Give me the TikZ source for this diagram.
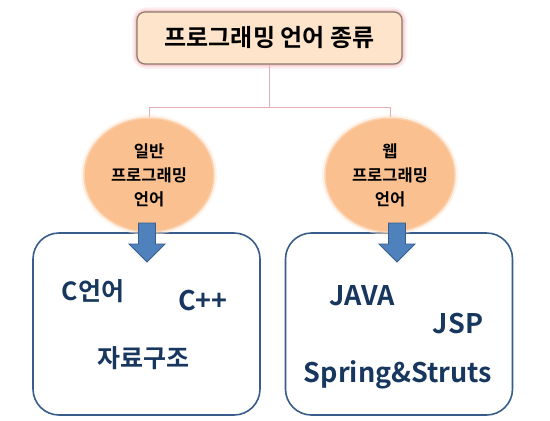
\documentclass[tikz,border=0pt]{standalone}
\usepackage{fontspec}
\setmainfont{Noto Sans CJK KR}[BoldFont={Noto Sans CJK KR Bold}]
\usetikzlibrary{shapes.geometric}
\definecolor{peach}{HTML}{FDE4CA}
\definecolor{orangefill}{HTML}{FAC090}
\definecolor{arrowblue}{HTML}{4F81BD}
\definecolor{edgeblue}{HTML}{385D8A}
\definecolor{navy}{HTML}{17375E}
\definecolor{glowpink}{HTML}{F2A0A8}
\definecolor{connpink}{HTML}{E6AEB4}
\tikzset{
  titlebox/.style={rectangle, rounded corners=8bp, fill=peach, draw=black!45!peach, line width=1.2bp,
    minimum width=265bp, minimum height=52bp, font=\fontsize{24bp}{28bp}\selectfont\bfseries, text=black},
  cat/.style={ellipse, fill=orangefill, draw=orangefill!70!white, line width=1.5bp,
    minimum width=130bp, minimum height=114bp, inner sep=0pt, align=center,
    font=\fontsize{16.5bp}{24bp}\selectfont\bfseries, text=black},
  listbox/.style={rectangle, rounded corners=26bp, draw=edgeblue, line width=1.6bp, fill=white,
    minimum width=227bp, minimum height=182bp},
  item/.style={font=\fontsize{25bp}{28bp}\selectfont\bfseries, text=navy, inner sep=0pt},
  latin/.style={item, font=\fontsize{27bp}{30bp}\selectfont\bfseries},
  conn/.style={draw=connpink, line width=1bp},
  blockarrow/.style={fill=arrowblue, draw=edgeblue, line width=0.8bp}
}
\begin{document}
\begin{tikzpicture}[x=1bp,y=-1bp]
\useasboundingbox (0,0) rectangle (550,420);
% boxes
\node[listbox] (box1) at (146.5,324) {};
\node[listbox] (box2) at (399,324) {};
% title glow
\foreach \w/\o in {10/0.12,7/0.2,4/0.3,2/0.45}{
  \draw[glowpink, line width=\w bp, opacity=\o, rounded corners=9bp] (137,12) rectangle (402,64);
}
\node[titlebox] (title) at (269.5,38) {프로그래밍 언어 종류};
% ellipses with soft glow
\foreach \c in {149,390}{
  \fill[orangefill!40!white, opacity=0.5] (\c,175) ellipse (68 and 60);
}
\node[cat] (gen) at (149,175) {일반\\프로그래밍\\언어};
\node[cat] (web) at (390,175) {웹\\프로그래밍\\언어};
% connectors
\coordinate (j) at (269.5,107);
\draw[conn] (title.south) -- (j);
\draw[conn] (gen.north) -- (gen.north |- j) -- (web.north |- j) -- (web.north);
% block arrows
\foreach \c/\n in {147/a1,397/a2}{
  \draw[blockarrow] (\c-8.5,223) -- (\c+8.5,223) -- (\c+8.5,244) -- (\c+18,244) -- (\c,262) -- (\c-18,244) -- (\c-8.5,244) -- cycle;
}
% items
\node[item] (c) at (93,291) {C언어};
\node[latin] (cpp) at (203,300) {C++};
\node[item] (ds) at (143,358) {자료구조};
\node[latin] (java) at (362,296) {JAVA};
\node[latin] (jsp) at (458,323) {JSP};
\node[latin] (ss) at (398,375) {Spring\&Struts};
\end{tikzpicture}
\end{document}
